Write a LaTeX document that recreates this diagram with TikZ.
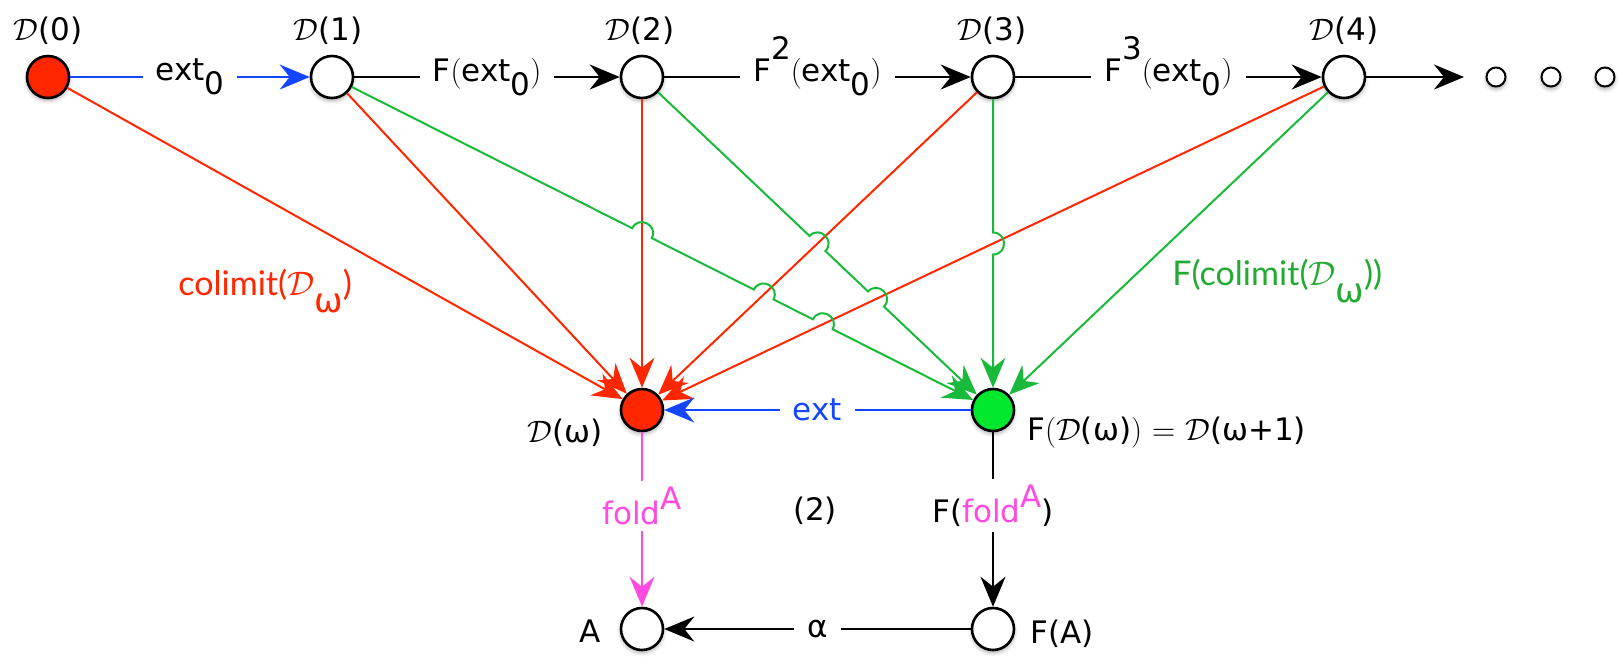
\RequirePackage{fix-cm}
\documentclass[tikz,border=0pt]{standalone}
\usepackage{fontspec}
\newfontfamily\dvsans{DejaVu Sans}
\newfontfamily\optfam{Lato}
\usetikzlibrary{arrows.meta,calc,shadows.blur}
\definecolor{cred}{RGB}{255,38,0}
\definecolor{cgreen}{RGB}{25,185,60}
\definecolor{cgfill}{RGB}{0,232,45}
\definecolor{cblue}{RGB}{20,70,255}
\definecolor{cpink}{RGB}{255,75,225}
\definecolor{ctgreen}{RGB}{35,170,50}
\newcommand{\Dc}{$\mathcal{D}$}
\newcommand{\lo}[1]{\raisebox{-0.45em}{#1}}
\newcommand{\hi}[1]{\smash{\raisebox{0.72em}{#1}}}
\newcommand{\tp}[1]{{\rmfamily #1}}
\begin{document}
\begin{tikzpicture}[x=0.5pt,y=0.5pt,
  lab/.style={font=\dvsans\fontsize{15.5}{18}\selectfont, inner sep=0pt},
  elab/.style={lab, fill=white, inner xsep=6.5pt, inner ysep=3pt},
  obj/.style={circle, draw=black, line width=1.3pt, minimum size=21pt, inner sep=0pt, fill=white,
    blur shadow={shadow xshift=0pt, shadow yshift=-1.3pt, shadow blur radius=2pt, shadow opacity=35}},
  smalldot/.style={obj, minimum size=9.5pt, line width=1pt},
  arr/.style={-{Stealth[length=15pt,width=12.5pt,inset=5pt]}, line width=1pt},
  bl/.style={arr, black},
  rl/.style={arr, cred},
  gl/.style={arr, cgreen},
  clab/.style={font=\optfam\fontsize{17}{20}\selectfont, inner sep=0pt, anchor=base west}
]
\useasboundingbox (0,0) rectangle (1618,-661);
% nodes
\node[obj, fill=cred] (D0) at (48,-77) {};
\node[obj] (D1) at (332,-77) {};
\node[obj] (D2) at (642,-77) {};
\node[obj] (D3) at (993,-77) {};
\node[obj] (D4) at (1344,-77) {};
\node[smalldot] (e1) at (1496,-77) {};
\node[smalldot] (e2) at (1551,-77) {};
\node[smalldot] (e3) at (1605,-77) {};
\coordinate (dd) at (1464,-77);
\node[obj, fill=cred] (W) at (642,-410) {};
\node[obj, fill=cgfill] (G) at (993,-410) {};
\node[obj] (A) at (642,-629) {};
\node[obj] (FA) at (993,-629) {};
% top labels
\node[lab, anchor=base] (lD0) at (48,-40) {\Dc(0)};
\node[lab, anchor=base] (lD1) at (328,-40) {\Dc(1)};
\node[lab, anchor=base] (lD2) at (640,-40) {\Dc(2)};
\node[lab, anchor=base] (lD3) at (992,-40) {\Dc(3)};
\node[lab, anchor=base] (lD4) at (1344,-40) {\Dc(4)};
% other labels
\node[lab, anchor=base east] (lW) at (603,-442) {\Dc(ω)};
\node[lab, anchor=base west] (lG) at (1027,-440) {F\tp{(}\Dc(ω)\tp{)} $=$ \Dc(ω+1)};
\node[lab, anchor=base east] (lA) at (601,-642) {A};
\node[lab, anchor=base west] (lFA) at (1030,-643) {F(A)};
\node[lab] (n2) at (815,-511) {(2)};
\node[clab, text=cred] (cl) at (178,-295) {colimit(\Dc\raisebox{-0.5em}{\dvsans ω})};
\node[clab, text=ctgreen] (fcl) at (1172,-285) {F(colimit(\Dc\raisebox{-0.5em}{\dvsans ω}))};
% top chain
\draw[arr, cblue] (D0) -- node[elab, text=black] (t0) {ext\lo{0}} (D1);
\draw[bl] (D1) -- node[elab] (t1) {F\tp{(}ext\lo{0}\tp{)}} (D2);
\draw[bl] (D2) -- node[elab] (t2) {F\hi{2}\tp{(}ext\lo{0}\tp{)}} (D3);
\draw[bl] (D3) -- node[elab] (t3) {F\hi{3}\tp{(}ext\lo{0}\tp{)}} (D4);
\draw[bl] (D4) -- (dd);
% red colimit arrows
\draw[rl] (D0) -- (W);
\draw[rl] (D1) -- (W);
\draw[rl] (D2) -- (W);
\draw[rl] (D3) -- (W);
\draw[rl] (D4) -- (W);
% hop points
\coordinate (h12) at (intersection of D1.center--G.center and D2.center--W.center);
\coordinate (h13) at (intersection of D1.center--G.center and D3.center--W.center);
\coordinate (h14) at (intersection of D1.center--G.center and D4.center--W.center);
\coordinate (h23) at (intersection of D2.center--G.center and D3.center--W.center);
\coordinate (h24) at (intersection of D2.center--G.center and D4.center--W.center);
\coordinate (h34) at (intersection of D3.center--G.center and D4.center--W.center);
\foreach \h/\s in {h12/D1,h13/D1,h14/D1,h23/D2,h24/D2,h34/D3}{
  \coordinate (\h a) at ($(\h)!5.5pt!(\s.center)$);
  \coordinate (\h b) at ($(\h)!5.5pt!(G.center)$);
}
% green arrows with hops
\draw[gl] (D1) -- (h12a) .. controls ($(h12a)!7.3pt!90:(h12b)$) and ($(h12b)!7.3pt!-90:(h12a)$) .. (h12b)
  -- (h13a) .. controls ($(h13a)!7.3pt!90:(h13b)$) and ($(h13b)!7.3pt!-90:(h13a)$) .. (h13b)
  -- (h14a) .. controls ($(h14a)!7.3pt!90:(h14b)$) and ($(h14b)!7.3pt!-90:(h14a)$) .. (h14b)
  -- (G);
\draw[gl] (D2) -- (h23a) .. controls ($(h23a)!7.3pt!90:(h23b)$) and ($(h23b)!7.3pt!-90:(h23a)$) .. (h23b)
  -- (h24a) .. controls ($(h24a)!7.3pt!90:(h24b)$) and ($(h24b)!7.3pt!-90:(h24a)$) .. (h24b)
  -- (G);
\draw[gl] (D3) -- (h34a) .. controls ($(h34a)!7.3pt!90:(h34b)$) and ($(h34b)!7.3pt!-90:(h34a)$) .. (h34b)
  -- (G);
\draw[gl] (D4) -- (G);
% bottom square
\draw[arr, cblue] (G) -- node[elab, text=cblue] (tx) {ext} (W);
\draw[arr, cpink] (W) -- node[elab, text=cpink, pos=0.42] (tf) {fold\raisebox{0.48em}{A}} (A);
\draw[bl] (G) -- node[elab, pos=0.42] (tF) {F(\textcolor{cpink}{fold\raisebox{0.48em}{A}})} (FA);
\draw[bl] (FA) -- node[elab] (ta) {α} (A);
\end{tikzpicture}
\end{document}
